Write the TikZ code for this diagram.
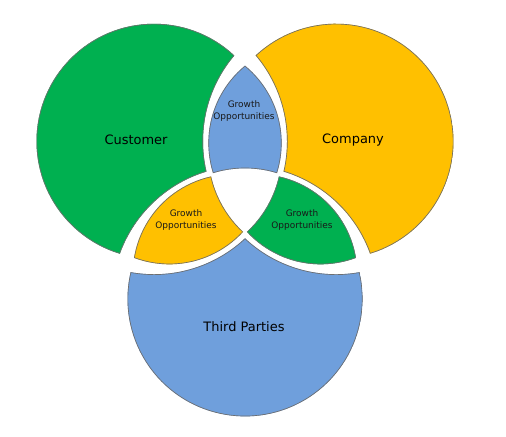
\documentclass[tikz,border=0pt]{standalone}
\usepackage{fontspec}
\setmainfont{DejaVu Sans}
\definecolor{custgreen}{HTML}{00B050}
\definecolor{compyellow}{HTML}{FFC000}
\definecolor{thirdblue}{HTML}{6F9FDC}
\definecolor{edge}{HTML}{6E6E6E}

\begin{document}
\begin{tikzpicture}[
  x=1bp, y=-1bp,
  outline/.style={draw=edge, line width=1.3bp},
  bigtext/.style={font=\fontsize{13}{15}\selectfont, text=black},
  smalltext/.style={font=\fontsize{9}{11.5}\selectfont, align=center, text=black!90}
]
  \path[fill=white] (0,0) rectangle (506,437);

  % Three big pieces: one circle minus the two cut circles, turned round the centre
  \begin{scope}[even odd rule, rotate around={0:(245,193.8)}]
    \clip (154,141.3) circle[radius=117.5];
    \clip (-300,-300) rectangle (800,700) (336,141.3) circle[radius=133];
    \clip (-300,-300) rectangle (800,700) (245,298.9) circle[radius=133];
    \fill[custgreen] (-300,-300) rectangle (800,700);
    \draw[outline] (154,141.3) circle[radius=117.5] (336,141.3) circle[radius=133] (245,298.9) circle[radius=133];
  \end{scope}
  \begin{scope}[even odd rule, rotate around={120:(245,193.8)}]
    \clip (154,141.3) circle[radius=117.5];
    \clip (-300,-300) rectangle (800,700) (336,141.3) circle[radius=133];
    \clip (-300,-300) rectangle (800,700) (245,298.9) circle[radius=133];
    \fill[thirdblue] (-300,-300) rectangle (800,700);
    \draw[outline] (154,141.3) circle[radius=117.5] (336,141.3) circle[radius=133] (245,298.9) circle[radius=133];
  \end{scope}
  \begin{scope}[even odd rule, rotate around={240:(245,193.8)}]
    \clip (154,141.3) circle[radius=117.5];
    \clip (-300,-300) rectangle (800,700) (336,141.3) circle[radius=133];
    \clip (-300,-300) rectangle (800,700) (245,298.9) circle[radius=133];
    \fill[compyellow] (-300,-300) rectangle (800,700);
    \draw[outline] (154,141.3) circle[radius=117.5] (336,141.3) circle[radius=133] (245,298.9) circle[radius=133];
  \end{scope}

  % Overlap pieces: lens of two circles cut by the third
  \begin{scope}[even odd rule, rotate around={0:(245,193.8)}]
    \clip (181.6,143) circle[radius=100];
    \clip (308.4,143) circle[radius=100];
    \clip (-300,-300) rectangle (800,700) (245,276.3) circle[radius=108];
    \fill[thirdblue] (-300,-300) rectangle (800,700);
    \draw[outline] (181.6,143) circle[radius=100] (308.4,143) circle[radius=100] (245,276.3) circle[radius=108];
  \end{scope}
  \begin{scope}[even odd rule, rotate around={120:(245,193.8)}]
    \clip (181.6,143) circle[radius=100];
    \clip (308.4,143) circle[radius=100];
    \clip (-300,-300) rectangle (800,700) (245,276.3) circle[radius=108];
    \fill[compyellow] (-300,-300) rectangle (800,700);
    \draw[outline] (181.6,143) circle[radius=100] (308.4,143) circle[radius=100] (245,276.3) circle[radius=108];
  \end{scope}
  \begin{scope}[even odd rule, rotate around={240:(245,193.8)}]
    \clip (181.6,143) circle[radius=100];
    \clip (308.4,143) circle[radius=100];
    \clip (-300,-300) rectangle (800,700) (245,276.3) circle[radius=108];
    \fill[custgreen] (-300,-300) rectangle (800,700);
    \draw[outline] (181.6,143) circle[radius=100] (308.4,143) circle[radius=100] (245,276.3) circle[radius=108];
  \end{scope}

  % Labels
  \node[bigtext] (cust) at (136,140) {Customer};
  \node[bigtext] (comp) at (353,140) {Company};
  \node[bigtext] (third) at (244,327) {Third Parties};
  \node[smalltext] (gtop) at (244,111) {Growth\\Opportunities};
  \node[smalltext] (gleft) at (186,220) {Growth\\Opportunities};
  \node[smalltext] (gright) at (302,220) {Growth\\Opportunities};
\end{tikzpicture}
\end{document}
